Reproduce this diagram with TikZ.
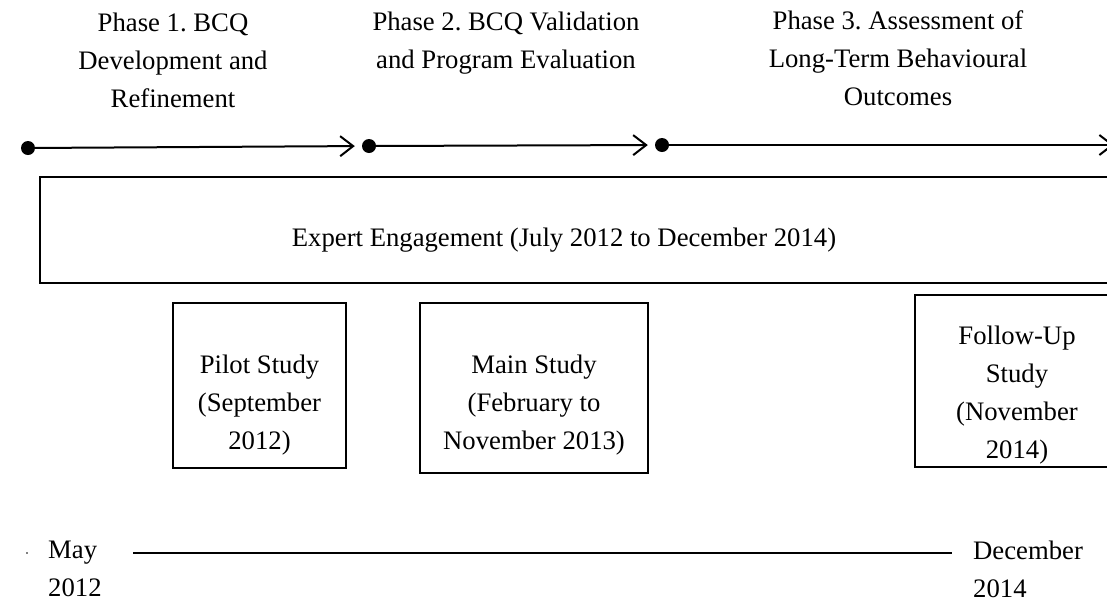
\documentclass[tikz,border=0pt]{standalone}
\usepackage{fontspec}
\setmainfont{Liberation Serif}
\usepackage{xcolor}
\usepackage{tikz}
\usetikzlibrary{arrows.meta,positioning}
\frenchspacing

\begin{document}
\begin{tikzpicture}[x=1pt, y=-1pt,
        txt/.style={align=center, inner sep=0pt, font=\fontsize{26.7}{38}\selectfont},
        stagebox/.style={draw, line width=1.6pt, inner sep=0pt},
        phasedot/.style={circle, fill=black, inner sep=0pt, minimum size=14pt},
        phasearrow/.style={-{Straight Barb[length=13pt,width=20pt]}, line width=2pt, shorten >=7pt}]
        \useasboundingbox (0,0) rectangle (1107,603);

        % Phase titles
        \node[txt] (ph1) at (173,60) {Phase 1. BCQ\\Development and\\Refinement};
        \node[txt] (ph2) at (506,43) {Phase 2. BCQ Validation\\and Program Evaluation};
        \node[txt] (ph3) at (898,58) {Phase 3. Assessment of\\Long-Term Behavioural\\Outcomes};

        % Phase arrows
        \node[phasedot] (d1) at (28,148) {};
        \node[phasedot] (d2) at (369,146) {};
        \node[phasedot] (d3) at (662,145) {};
        \coordinate (d4) at (1114,145);
        \draw[phasearrow] (d1) -- (d2);
        \draw[phasearrow] (d2) -- (d3);
        \draw[phasearrow, shorten >=0pt] (d3) -- (d4);

        % Expert engagement
        \node[stagebox, minimum width=1080, minimum height=106] (expert) at (580,230) {};
        \node[txt] at ([xshift=-16pt, yshift=-10pt]expert.center) {Expert Engagement (July 2012 to December 2014)};

        % Studies
        \node[stagebox, minimum width=173, minimum height=165] (pilot) at (259.5,385.5) {};
        \node[txt] at ([yshift=-19.5pt]pilot.center) {Pilot Study\\(September\\2012)};
        \node[stagebox, minimum width=228, minimum height=170] (main) at (534,388) {};
        \node[txt] at ([yshift=-17pt]main.center) {Main Study\\(February to\\November 2013)};
        \node[stagebox, minimum width=204, minimum height=172] (follow) at (1017,381) {};
        \node[txt] at ([yshift=-14pt]follow.center) {Follow-Up\\Study\\(November\\2014)};

        % Time line
        \node[txt, align=left, anchor=west] (start) at (48,569) {May\\2012};
        \node[txt, align=left, anchor=west] (finish) at (973,569) {December\\2014};
        \fill (27,553) circle (0.8);
        \coordinate (t1) at (133,553);
        \coordinate (t2) at (952,553);
        \draw[line width=2pt] (t1) -- (t2);
    \end{tikzpicture}
\end{document}
